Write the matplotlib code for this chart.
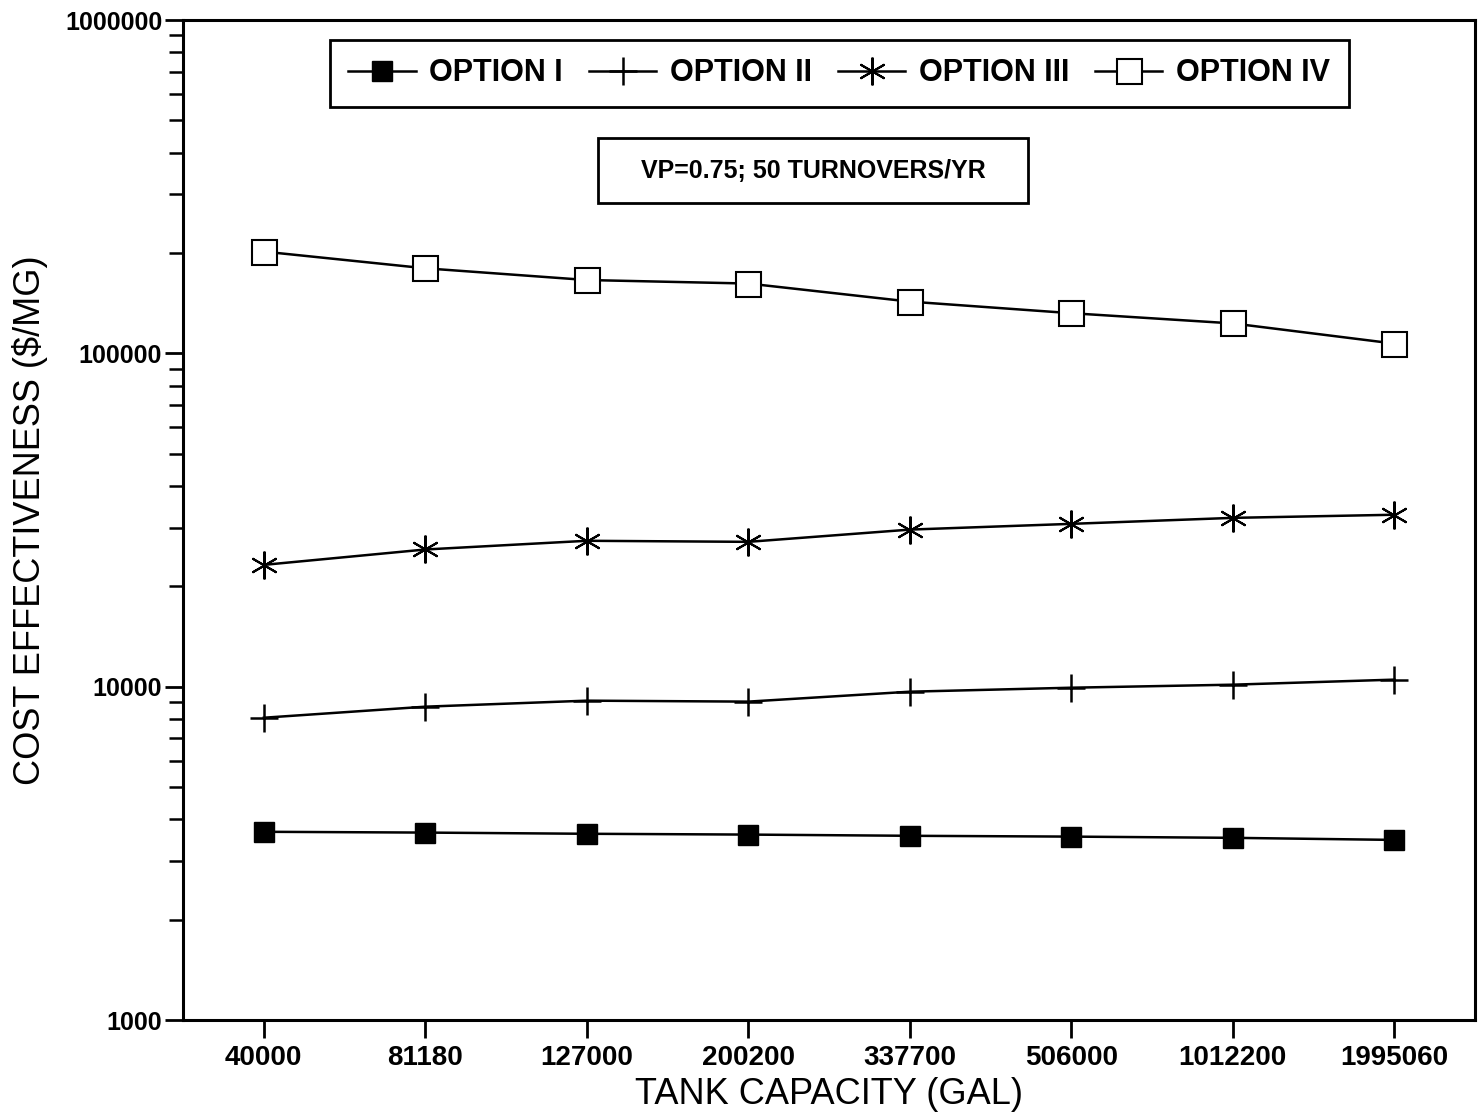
import matplotlib
matplotlib.use('Agg')
import matplotlib.pyplot as plt
from matplotlib.patches import Rectangle

plt.rcParams['font.family'] = ['Liberation Sans', 'DejaVu Sans']

capacities = ['40000', '81180', '127000', '200200', '337700', '506000', '1012200', '1995060']

option_1 = [3670, 3650, 3620, 3600, 3570, 3550, 3520, 3470]
option_2 = [8070, 8710, 9080, 9020, 9660, 9930, 10140, 10500]
option_3 = [23200, 25800, 27400, 27200, 29600, 30800, 32100, 32800]
option_4 = [202000, 180000, 166000, 162000, 143000, 132000, 123000, 107000]

fig = plt.figure(figsize=(14.81, 11.15), dpi=100)
ax = fig.add_axes([0.1236, 0.0852, 0.8724, 0.8968])

x = range(len(capacities))
ax.plot(x, option_1, color='black', lw=1.8, marker='s', ms=15, mfc='black', mec='black', label='OPTION I')
ax.plot(x, option_2, color='black', lw=1.8, marker='+', ms=20, mew=1.8, label='OPTION II')
ax.plot(x, option_3, color='black', lw=1.8, marker=(6, 2, 0), ms=20, mew=1.5, label='OPTION III')
ax.plot(x, option_4, color='black', lw=1.8, marker='s', ms=18, mfc='white', mec='black', mew=1.5, label='OPTION IV')

ax.set_yscale('log')
ax.set_ylim(1000, 1000000)
ax.set_xlim(-0.5, 7.5)
ax.set_xticks(list(x))
ax.set_xticklabels(capacities, fontsize=20, fontweight='bold')
ax.set_yticks([1000, 10000, 100000, 1000000])
ax.set_yticklabels(['1000', '10000', '100000', '1000000'], fontsize=18, fontweight='bold')
ax.tick_params(axis='both', which='major', direction='out', length=13, width=2, color='black')
ax.tick_params(axis='y', which='minor', direction='out', length=10, width=1.8)
ax.tick_params(axis='x', which='major', pad=5)
ax.tick_params(axis='y', which='major', pad=2)
for s in ax.spines.values():
    s.set_linewidth(2.2)

ax.set_xlabel('TANK CAPACITY (GAL)', fontsize=26, labelpad=4)
ax.set_ylabel('COST EFFECTIVENESS ($/MG)', fontsize=26, labelpad=12)

leg = ax.legend(loc='upper left', bbox_to_anchor=(0.1138, 0.98), borderaxespad=0, ncol=4, fancybox=False,
                edgecolor='black', framealpha=1, prop={'size': 22, 'weight': 'bold'},
                handlelength=2.2, handletextpad=0.45, columnspacing=0.85, borderpad=0.6)
leg.get_frame().set_linewidth(2)

# note box
ax.add_patch(Rectangle((0.3212, 0.817), 0.3328, 0.065, transform=ax.transAxes,
                       facecolor='white', edgecolor='black', linewidth=2, zorder=5))
ax.text(0.4876, 0.8495, 'VP=0.75; 50 TURNOVERS/YR', transform=ax.transAxes, ha='center', va='center',
        fontsize=18, fontweight='bold', zorder=6)

fig.savefig('out.png', dpi=100)
